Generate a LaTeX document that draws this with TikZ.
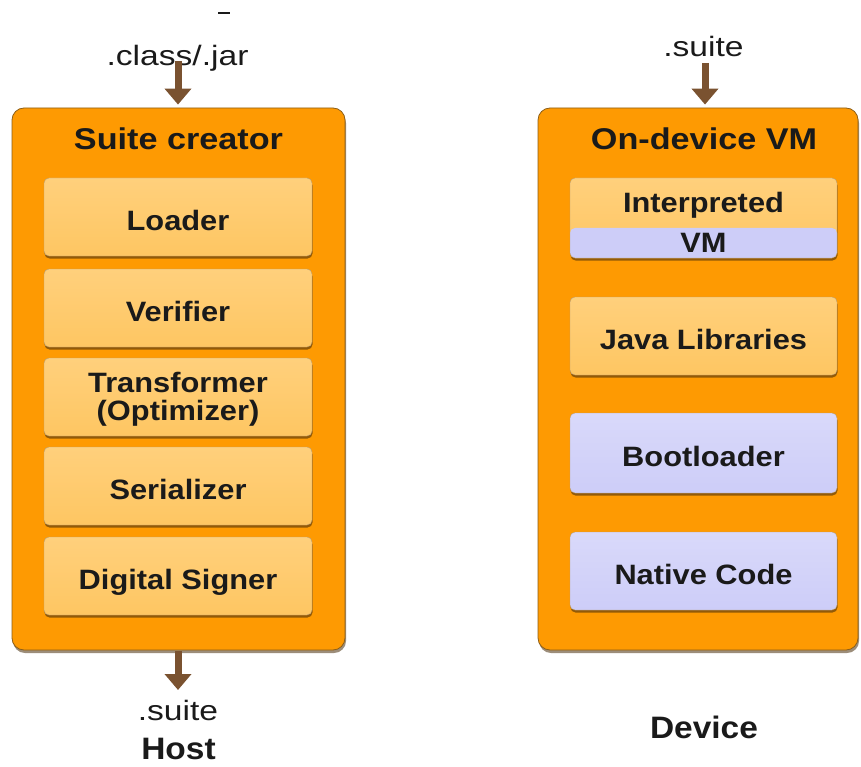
\documentclass[tikz,border=0pt]{standalone}
\usepackage{fontspec}
\setmainfont{Liberation Sans}
\newfontfamily\regfont[FakeStretch=1.2]{Liberation Sans}
\newfontfamily\labfont[FakeStretch=1.1]{Liberation Sans}
\newfontfamily\titfont[FakeStretch=1.14]{Liberation Sans}
\newfontfamily\sidefont[FakeStretch=1.08]{Liberation Sans}
\usetikzlibrary{arrows.meta,shadows}
\definecolor{outerorange}{HTML}{FE9A02}
\definecolor{outeredge}{HTML}{8C5E18}
\definecolor{innertop}{HTML}{FFD07C}
\definecolor{innerbot}{HTML}{FEC662}
\definecolor{lavender}{HTML}{CDCDF8}
\definecolor{lavtop}{HTML}{D9D9FA}
\definecolor{arrowbrown}{HTML}{7A5230}
\definecolor{inkcol}{HTML}{1A1A1A}
\definecolor{shadowcol}{HTML}{4A300C}
\begin{document}
\begin{tikzpicture}[x=1pt,y=-1pt,
  outerbox/.style={draw=outeredge, line width=0.8pt, fill=outerorange,
    rounded corners=12pt, inner sep=0pt,
    drop shadow={shadow xshift=1pt, shadow yshift=-3pt, opacity=0.55, fill=shadowcol}},
  innerbox/.style={draw=outeredge!60, line width=0.4pt,
    top color=innertop, bottom color=innerbot,
    rounded corners=5pt, inner sep=0pt, minimum width=268pt, minimum height=78pt,
    text height=26pt, text depth=0pt, text=inkcol,
    font=\labfont\bfseries\fontsize{28}{30}\selectfont,
    drop shadow={shadow xshift=0.5pt, shadow yshift=-2.5pt, opacity=0.6, fill=shadowcol}},
  lavbox/.style={innerbox, top color=lavtop, bottom color=lavender},
  boxtext/.style={inner sep=0pt, anchor=base, text=inkcol,
    font=\labfont\bfseries\fontsize{28}{30}\selectfont},
  titletext/.style={inner sep=0pt, anchor=base, text=inkcol,
    font=\titfont\bfseries\fontsize{30}{32}\selectfont},
  filetext/.style={inner sep=0pt, anchor=base, text=inkcol,
    font=\regfont\fontsize{28}{30}\selectfont},
  sidetext/.style={inner sep=0pt, anchor=base, text=inkcol,
    font=\sidefont\bfseries\fontsize{31}{33}\selectfont},
  flow/.style={draw=arrowbrown, line width=7pt,
    -{Triangle[width=26pt,length=16pt]}, color=arrowbrown}
]
\useasboundingbox (0,0) rectangle (861,767);

% ---------------- Host side: suite creator ----------------
\node[outerbox, minimum width=333pt, minimum height=542pt] (sc) at (178.5,379) {};
\node[titletext] (sctitle) at (178.5,150) {Suite creator};

\node[innerbox] (loader)   at (178,217) {Loader};
\node[innerbox] (verifier) at (178,308) {Verifier};
\node[innerbox] (transf)   at (178,397) {};
\node[boxtext] (transfa) at (178,392) {Transformer};
\node[boxtext] (transfb) at (178,420) {(Optimizer)};
\node[innerbox] (serial)   at (178,486) {Serializer};
\node[innerbox] (signer)   at (178,576) {Digital Signer};

% input and output files
\draw[line width=2.5pt, inkcol] (218,13) coordinate (dasha) -- (230,13) coordinate (dashb);
\node[filetext] (jarin) at (177.5,66) {.class/.jar};
\coordinate (jarfoot) at (178,61);
\draw[flow] (jarfoot) -- ([yshift=3pt]sc.north -| jarfoot);

\node[filetext] (suiteout) at (178,720) {.suite};
\coordinate (outtip) at (178,690);
\draw[flow] ([yshift=-1pt]sc.south -| outtip) -- (outtip);
\node[sidetext] (host) at (178.5,759) {Host};

% ---------------- Device side: on-device VM ----------------
\node[outerbox, minimum width=320pt, minimum height=542pt] (vm) at (698,379) {};
\node[titletext] (vmtitle) at (704,150) {On-device VM};

\node[innerbox, minimum width=267pt, minimum height=80pt,
  path picture={\fill[lavender] ([yshift=30pt]path picture bounding box.south west)
     rectangle (path picture bounding box.south east);}] (interp) at (703.5,218) {};
\node[boxtext] (interpa) at (703.5,213) {Interpreted};
\node[boxtext] (interpb) at (703.5,252) {VM};

\node[innerbox, minimum width=267pt] (jlib) at (703.5,336) {Java Libraries};
\node[lavbox,  minimum width=267pt, minimum height=80pt] (boot) at (703.5,453) {Bootloader};
\node[lavbox,  minimum width=267pt] (native) at (703.5,571) {Native Code};

\node[filetext] (suitein) at (703.5,57) {.suite};
\coordinate (vmfoot) at (705,63);
\draw[flow] (vmfoot) -- ([yshift=3pt]vm.north -| vmfoot);

\node[sidetext] (device) at (704,738) {Device};
\end{tikzpicture}
\end{document}
